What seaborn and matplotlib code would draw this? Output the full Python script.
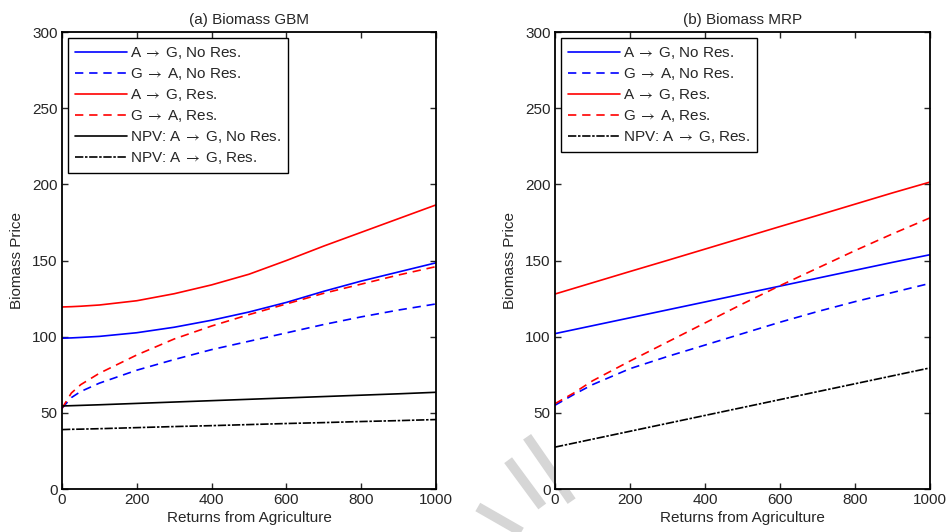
import numpy as np
import pandas as pd
import seaborn as sns
import matplotlib.pyplot as plt
from matplotlib.lines import Line2D

# x grid (returns from agriculture)
x_gbm = [0, 25, 50, 100, 200, 300, 400, 500, 600, 700, 800, 900, 1000]
x_mrp = [0, 50, 100, 200, 300, 400, 500, 600, 700, 800, 900, 1000]

# (a) Biomass GBM
gbm_ag_nores = [99.0, 99.2, 99.5, 100.2, 102.6, 106.2, 110.8, 116.2, 122.5, 129.8, 136.5, 142.5, 148.5]
gbm_ga_nores = [53.0, 60.0, 64.0, 69.5, 78.0, 85.0, 91.5, 97.0, 102.5, 108.0, 113.0, 117.5, 121.5]
gbm_ag_res = [119.5, 119.7, 120.0, 120.8, 123.6, 128.2, 134.0, 141.0, 150.0, 159.5, 168.5, 177.5, 186.5]
gbm_ga_res = [53.0, 63.0, 68.5, 76.0, 88.0, 98.5, 107.0, 114.5, 121.5, 128.5, 134.5, 140.5, 146.0]
gbm_npv_nores = [54.5, 54.7, 54.9, 55.3, 56.2, 57.1, 58.0, 58.9, 59.8, 60.7, 61.6, 62.5, 63.5]
gbm_npv_res = [39.0, 39.2, 39.3, 39.6, 40.3, 41.0, 41.6, 42.3, 43.0, 43.6, 44.3, 44.9, 45.6]

# (b) Biomass MRP
mrp_ag_nores = [102.0, 104.6, 107.2, 112.4, 117.6, 122.8, 128.0, 133.2, 138.4, 143.6, 148.8, 153.8]
mrp_ga_nores = [55.0, 62.0, 68.5, 79.0, 87.0, 94.5, 102.0, 109.5, 116.5, 123.0, 129.0, 135.0]
mrp_ag_res = [128.0, 131.7, 135.4, 142.8, 150.1, 157.5, 164.9, 172.3, 179.6, 187.0, 194.4, 201.5]
mrp_ga_res = [56.0, 63.0, 71.0, 84.0, 96.5, 109.0, 121.5, 133.5, 145.0, 156.5, 167.5, 178.0]
mrp_npv_res = [27.5, 30.1, 32.7, 37.9, 43.1, 48.3, 53.5, 58.7, 63.9, 69.1, 74.3, 79.5]

lab_ag_nores = r'A$\;\rightarrow\;$G, No Res.'
lab_ga_nores = r'G$\;\rightarrow\;$A, No Res.'
lab_ag_res = r'A$\;\rightarrow\;$G, Res.'
lab_ga_res = r'G$\;\rightarrow\;$A, Res.'
lab_npv_nores = r'NPV: A$\;\rightarrow\;$G, No Res.'
lab_npv_res = r'NPV: A$\;\rightarrow\;$G, Res.'

sns.set_style('ticks')
plt.rcParams['font.family'] = ['Liberation Sans', 'DejaVu Sans']
plt.rcParams['mathtext.fontset'] = 'stixsans'
plt.rcParams['font.size'] = 11

dash = (0, (5, 3.5))
npv_dash = (0, (5, 1.0, 1.5, 1.0))

panels = [
    ('(a) Biomass GBM', x_gbm, [
        (gbm_ag_nores, lab_ag_nores, 'blue', '-'),
        (gbm_ga_nores, lab_ga_nores, 'blue', dash),
        (gbm_ag_res, lab_ag_res, 'red', '-'),
        (gbm_ga_res, lab_ga_res, 'red', dash),
        (gbm_npv_nores, lab_npv_nores, 'black', '-'),
        (gbm_npv_res, lab_npv_res, 'black', npv_dash),
    ]),
    ('(b) Biomass MRP', x_mrp, [
        (mrp_ag_nores, lab_ag_nores, 'blue', '-'),
        (mrp_ga_nores, lab_ga_nores, 'blue', dash),
        (mrp_ag_res, lab_ag_res, 'red', '-'),
        (mrp_ga_res, lab_ga_res, 'red', dash),
        (mrp_npv_res, lab_npv_res, 'black', npv_dash),
    ]),
]

fig = plt.figure(figsize=(9.48, 5.32), dpi=100)
ax_pos = [[0.0654, 0.0808, 0.3945, 0.859], [0.5854, 0.0808, 0.3956, 0.859]]

for pos, (title, xs, series) in zip(ax_pos, panels):
    ax = fig.add_axes(pos)
    for vals, lab, col, ls in series:
        df = pd.DataFrame({'x': xs, 'y': vals})
        sns.lineplot(data=df, x='x', y='y', ax=ax, color=col, lw=1.2,
                     label=lab)
        ax.lines[-1].set_linestyle(ls)
    ax.set_xlim(0, 1000)
    ax.set_ylim(0, 300)
    ax.set_xticks(range(0, 1001, 200))
    ax.set_yticks(range(0, 301, 50))
    ax.tick_params(direction='in', top=True, right=True, length=4,
                   width=1, labelsize=11, pad=3)
    for s in ax.spines.values():
        s.set_linewidth(1.3)
        s.set_color('black')
    ax.set_xlabel('Returns from Agriculture', fontsize=11, labelpad=3)
    ax.set_ylabel('Biomass Price', fontsize=11, labelpad=6)
    ax.set_title(title, fontsize=11, pad=6)
    leg = ax.legend(loc='upper left', fontsize=11, handlelength=3.4,
                    handletextpad=0.2, labelspacing=0.33, borderpad=0.45,
                    borderaxespad=0.4, fancybox=False, framealpha=1)
    leg.get_frame().set_edgecolor('black')
    leg.get_frame().set_linewidth(1.0)
    for h, (vals, lab, col, ls) in zip(leg.get_lines(), series):
        h.set_linestyle(ls)

# faint watermark strokes (figure fraction)
wm = [((0.556, 0.179), (0.603, 0.058)),
      ((0.536, 0.135), (0.572, 0.048)),
      ((0.504, 0.047), (0.550, 0.000))]
for (x0, y0), (x1, y1) in wm:
    fig.add_artist(Line2D([x0, x1], [y0, y1], transform=fig.transFigure,
                          color='#d6d6d6', lw=7, solid_capstyle='butt',
                          zorder=-1))

fig.savefig('out.png', dpi=100)
